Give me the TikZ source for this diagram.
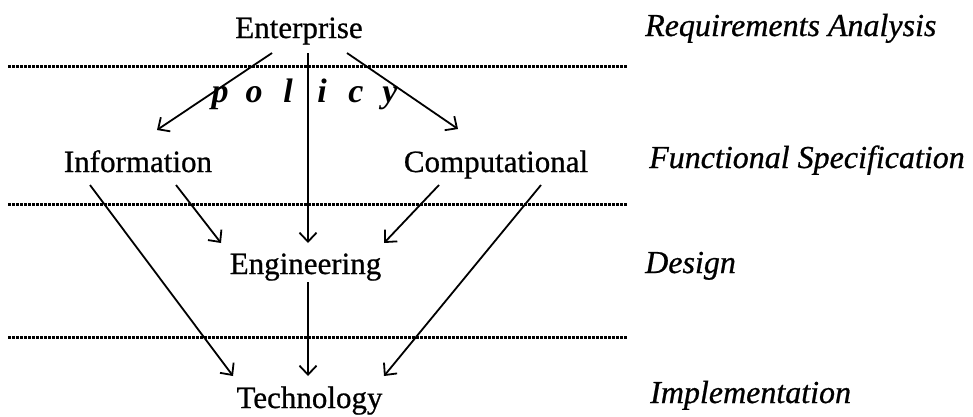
\documentclass[tikz,border=0pt]{standalone}
\usepackage{fontspec}
\setmainfont{Liberation Serif}
\newfontfamily\heavy[FakeBold=0.7]{Liberation Serif}
\usetikzlibrary{arrows.meta}
\begin{document}
\begin{tikzpicture}[x=1pt,y=-1pt,
  lbl/.style={inner sep=0pt,anchor=base,font=\heavy\fontsize{31}{36}\selectfont},
  side/.style={inner sep=0pt,anchor=base west,font=\heavy\fontsize{32}{36}\selectfont\itshape},
  arr/.style={line width=1.8pt,-{Straight Barb[length=9pt,width=17pt,line width=1.8pt]}},
  sep/.style={line width=3pt,dash pattern=on 3pt off 1pt}]
\useasboundingbox[fill=white] (0,0) rectangle (973,416);
% separators
\draw[sep] (8,66) -- (628,66);
\draw[sep] (8,204) -- (628,204);
\draw[sep] (8,337) -- (628,337);
% nodes
\node[lbl] (ent) at (299,38) {Enterprise};
\node[lbl] (info) at (138,172) {Information};
\node[lbl] (comp) at (496,172) {Computational};
\node[lbl] (eng) at (305.5,274) {Engineering};
\node[lbl] (tech) at (309.5,408) {Technology};
\node[inner sep=0pt,anchor=base,font=\fontsize{34}{36}\selectfont\bfseries\itshape] (pol) at (305,102)
  {\makebox[34pt]{p}\makebox[34pt]{o}\makebox[34pt]{l}\makebox[34pt]{i}\makebox[34pt]{c}\makebox[34pt]{y}};
\node[side] (req) at (645,36) {Requirements Analysis};
\node[side] (fun) at (649,168) {Functional Specification};
\node[side] (des) at (645,273) {Design};
\node[side] (imp) at (650,403) {Implementation};
% arrows
\draw[arr] ([shift={(-27,15)}]ent.base) -- ([shift={(19,-42)}]info.base);
\draw[arr] ([shift={(48,15)}]ent.base) -- ([shift={(-38,-43)}]comp.base);
\draw[arr] ([shift={(9,15)}]ent.base) -- ([shift={(2.5,-31)}]eng.base);
\draw[arr] ([shift={(38,13)}]info.base) -- ([shift={(-84.5,-31)}]eng.base);
\draw[arr] ([shift={(-48,13)}]info.base) -- ([shift={(-76.5,-32)}]tech.base);
\draw[arr] ([shift={(-57,13)}]comp.base) -- ([shift={(78.5,-31)}]eng.base);
\draw[arr] ([shift={(45,13)}]comp.base) -- ([shift={(74.5,-32)}]tech.base);
\draw[arr] ([shift={(2.5,8)}]eng.base) -- ([shift={(-1.5,-32)}]tech.base);
\end{tikzpicture}
\end{document}
